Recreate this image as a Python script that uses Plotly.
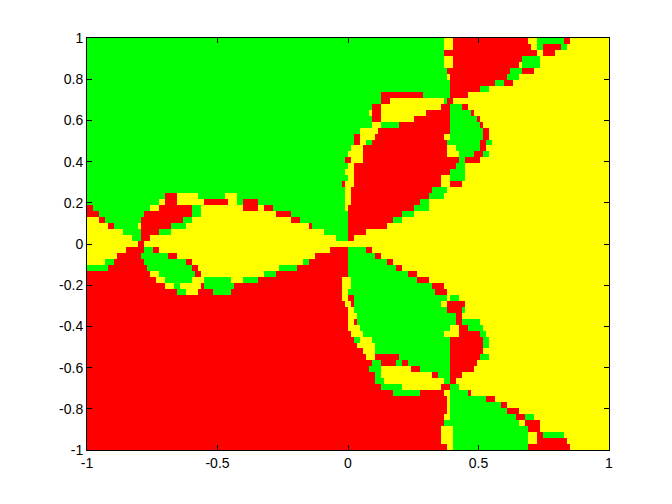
import numpy as np
import plotly.graph_objects as go

# basin of each cell top to bottom: colour letter + column where that colour starts
ROWS = [
    "G0 Y59.5 R61 Y73.5 G75 R79.5 Y80.5",
    "G0 Y59.5 R61 Y74 G75 R76 G79 Y80",
    "G0 R59.5 Y75 R76 Y78",
    "G0 Y59.5 R61 G72.5 Y75.5",
    "G0 Y59.5 R61 Y72 G72.5 Y75.5",
    "G0 R60 G70.5 R72.5 Y74.5",
    "G0 Y60 R60.5 G70 Y72",
    "G0 R60.5 G68 R69.5 Y71",
    "G0 R60.5 G65.5 Y67",
    "G0 R49 G56 R60.5 Y63.5",
    "G0 R49 Y50.5 G59.5 R60 Y61",
    "G0 R47.5 Y49 R59 G60.5 R62.5 Y63.5",
    "G0 Y47 R47.5 Y49 R56.5 G60.5 R64 Y64.5",
    "G0 R47.5 Y49 R54.5 G60.5 R65 Y65.5",
    "G0 Y47.5 G49 R52 G60.5 R65.5 Y66",
    "G0 Y45.5 R48.5 G60.5 R66 Y67",
    "G0 R44.5 Y45.5 R48 Y59.5 G60.5 R66 Y67",
    "G0 R44.5 Y45.5 G46.5 R47.5 G60 R65.5 G66.5 Y67.5",
    "G0 Y44 R46 Y60 G61.5 R65.5 Y66.5",
    "G0 Y43.5 R46 Y60 G62 R64.5 G66 Y67",
    "G0 R43 Y44 R46 G62 R63 Y65.5",
    "G0 Y43.5 R44.5 G61.5 Y63",
    "G0 Y43 R44.5 G60.5 Y63",
    "G0 Y43.5 R44.5 Y59 G60.5 Y63",
    "G0 R42.5 Y43 R44.5 Y59 R60.5 Y62.5",
    "G0 Y43 R44 G57.5 Y60",
    "G0 R13 Y15 G18.5 Y23 G25 Y43 R44 G57 Y59.5",
    "G0 Y12 R13 Y15 R19.5 Y23.5 G25 R26 G28.5 Y43 R44 G55.5 Y57",
    "R0 G1 Y10.5 R12 G17.5 Y19 R26 Y28.5 R29.5 G31 Y43 R43.5 G54.5 Y57",
    "R0 G2 R9.5 G17.5 Y19 R31.5 G34 R43.5 G52.5 Y54.5",
    "Y0 R2 G3 R9 G16 Y17.5 R34 G35.5 R43.5 G51 Y52.5",
    "Y0 R3.5 G4.5 Y8.5 R9 G14 Y16.5 R37 G37.5 R43.5 Y50",
    "Y0 G6 R9 G12 Y14 G39.5 R43.5 Y46.5",
    "Y0 G7.5 R9 Y10.5 G41.5 R43.5 Y44.5",
    "Y0 R8.5 Y9.5",
    "Y0 R6.5 G9.5 R11 Y12 R40.5 G43.5 R46.5 Y47.5",
    "Y0 R5 G9 R13.5 Y15 R38 G43.5 R48 Y49",
    "Y0 G3 R4.5 G9.5 R16.5 Y17.5 G36 R37 G43.5 R50 Y51",
    "G0 R3.5 G10 R17.5 Y18.5 G32 R35 G43.5 R51.5 Y52.5",
    "R0 Y10.5 G12 R18 Y19 G29.5 R31.5 G43.5 R53.5 Y55",
    "R0 Y11.5 G13 Y17.5 G19.5 Y24 G26 R28.5 Y42.5 G44 R55 Y57",
    "R0 Y13 G14.5 Y15.5 R19 G19.5 R24.5 Y42.5 G44 R57.5 Y59.5",
    "R0 G15 Y16.5 R18.5 G21 R24 Y42.5 G43.5 R58 Y60",
    "R0 Y42.5 R43.5 G44.5 Y60 G60.5 Y62",
    "R0 Y43 R44 G44.5 Y59 R60 Y63",
    "R0 Y43.5 G44.5 R60 G62.5 Y63",
    "R0 Y43.5 G45 R61.5 Y62.5",
    "R0 Y43.5 R44.5 G45 R61.5 G62.5 Y65.5",
    "R0 Y43.5 G45.5 Y60.5 R62 G63.5 Y66",
    "R0 Y44 G46 Y59.5 R62 G65.5 Y66.5",
    "R0 G44.5 Y45.5 G47.5 R60.5 G66 Y67",
    "R0 Y45 G48 R60.5 G66 Y67",
    "R0 Y46 G48 R60.5 Y66",
    "R0 Y46.5 R48 G52 R60.5 G65.5 Y67",
    "R0 G47.5 R49 G51.5 R52.5 G53.5 R60.5 Y65",
    "R0 G47 Y49 R54 G55.5 R60.5 Y64.5",
    "R0 G48 Y49 R57.5 G58.5 R60.5 Y62.5",
    "R0 G48 Y49.5 G59.5 R60.5 Y61.5",
    "R0 G49 Y52.5 R59 G60.5 Y62",
    "R0 G51 R55.5 Y59.5 G60.5 R63.5 Y64",
    "R0 Y60 G60.5 R66.5 Y68",
    "R0 Y60 G60.5 R69 Y70",
    "R0 Y60 G60.5 R70 Y72",
    "R0 Y59.5 G60.5 R71.5 G73 Y74.5",
    "R0 G59.5 Y72 R73 Y75.5",
    "R0 Y59 G61 R73.5 Y75.5",
    "R0 Y59 G61 Y73.5 R75 G76 Y79.5",
    "R0 Y59 G61 Y73.5 R75 Y80",
    "R0 Y60 G61 R73.5 Y80.5",
]

BASIN_CODES = {"R": 0, "G": 1, "Y": 2}
BASIN_COLORS = ["#ff0000", "#00ff00", "#ffff00"]
X_TICKS = [-1, -0.5, 0, 0.5, 1]
X_LABELS = ["-1", "-0.5", "0", "0.5", "1"]
Y_TICKS = [-1, -0.8, -0.6, -0.4, -0.2, 0, 0.2, 0.4, 0.6, 0.8, 1]
Y_LABELS = ["-1", "-0.8", "-0.6", "-0.4", "-0.2", "0", "0.2", "0.4", "0.6", "0.8", "1"]
N_COLS = 174  # half columns, so the .5 starts above land on a cell


def expand(row):
    cells = np.zeros(N_COLS, dtype=int)
    for run in row.split():
        cells[int(round(float(run[1:]) * 2)):] = BASIN_CODES[run[0]]
    return cells


z = np.array([expand(r) for r in ROWS])
x_edges = np.linspace(-1, 1, N_COLS + 1)
y_edges = np.linspace(1, -1, len(ROWS) + 1)

fig = go.Figure(
    go.Heatmap(
        x=(x_edges[:-1] + x_edges[1:]) / 2,
        y=(y_edges[:-1] + y_edges[1:]) / 2,
        z=z,
        zmin=0,
        zmax=2,
        colorscale=[
            [0, BASIN_COLORS[0]], [1 / 3, BASIN_COLORS[0]],
            [1 / 3, BASIN_COLORS[1]], [2 / 3, BASIN_COLORS[1]],
            [2 / 3, BASIN_COLORS[2]], [1, BASIN_COLORS[2]],
        ],
        showscale=False,
        hoverinfo="skip",
    )
)

axis_style = dict(
    showgrid=False,
    zeroline=False,
    showline=True,
    linecolor="black",
    linewidth=1,
    mirror="ticks",
    ticks="inside",
    ticklen=5,
    tickcolor="black",
    range=[-1, 1],
)
fig.update_xaxes(tickvals=X_TICKS, ticktext=X_LABELS, **axis_style)
fig.update_yaxes(tickvals=Y_TICKS, ticktext=Y_LABELS, **axis_style)
fig.update_layout(
    width=672,
    height=504,
    margin=dict(l=79, r=71, t=30, b=62),  # page body adds 8px on the left and top
    paper_bgcolor="white",
    plot_bgcolor="white",
    font=dict(family="Liberation Sans", size=14, color="black"),
)

fig.write_html("out.html")
